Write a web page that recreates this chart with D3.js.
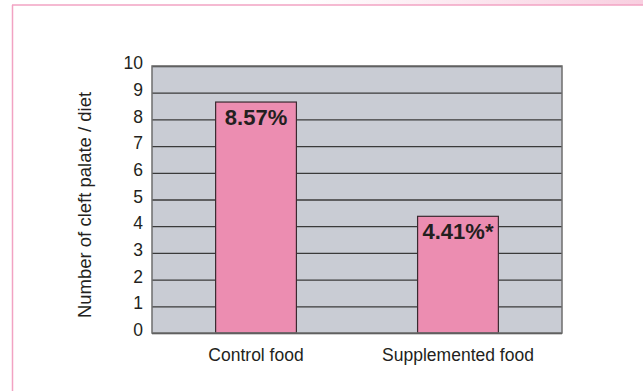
<!DOCTYPE html>
<html>
<head>
<meta charset="utf-8">
<script src="https://cdn.jsdelivr.net/npm/d3@7"></script>
<style>
  html, body { margin: 0; padding: 0; background: #fff; }
  svg { display: block; font-family: 'Liberation Sans', Arial, sans-serif; }
</style>
</head>
<body>
<svg id="chart"></svg>
<script>
const categories = ['Control food', 'Supplemented food'];
const cleftCounts = [8.65, 4.37];
const barLabels = ['8.57%', '4.41%*'];
const yTickValues = [0, 1, 2, 3, 4, 5, 6, 7, 8, 9, 10];
const yTitle = 'Number of cleft palate / diet';

const width = 643;
const height = 391;
const margin = { top: 66, right: 81, bottom: 58, left: 152 };
const plotW = width - margin.left - margin.right;
const plotH = height - margin.top - margin.bottom;

const svg = d3.select('#chart').attr('width', width).attr('height', height);

// pink page frame (left rule + top rule with fading band)
const defs = svg.append('defs');
const grad = defs.append('linearGradient').attr('id', 'topband')
  .attr('x1', '0%').attr('x2', '100%');
grad.append('stop').attr('offset', '45%').attr('stop-color', '#fff');
grad.append('stop').attr('offset', '100%').attr('stop-color', '#f8cfe0');
svg.append('rect').attr('x', 12).attr('y', 0).attr('width', width - 12).attr('height', 5)
  .attr('fill', 'url(#topband)');
svg.append('line').attr('x1', 12).attr('x2', width).attr('y1', 5).attr('y2', 5)
  .attr('stroke', '#f2a3c3').attr('stroke-width', 1.5);
svg.append('line').attr('x1', 12.5).attr('x2', 12.5).attr('y1', 5).attr('y2', height)
  .attr('stroke', '#f2a3c3').attr('stroke-width', 1.5);

const g = svg.append('g').attr('transform', `translate(${margin.left},${margin.top})`);

const x = d3.scaleBand().domain(categories).range([0, plotW])
  .paddingInner(0.6).paddingOuter(0.315);
const y = d3.scaleLinear().domain([0, 10]).range([plotH, 0]);

// plot background
g.append('rect').attr('width', plotW).attr('height', plotH).attr('fill', '#c9ccd4');

// grid lines
const yAxis = d3.axisLeft(y).tickValues(yTickValues).tickSize(-plotW).tickPadding(9);
const ya = g.append('g').attr('class', 'y-axis').call(yAxis);
ya.select('.domain').remove();
ya.selectAll('.tick line').attr('stroke', '#3a3a3a').attr('stroke-width', 1.3);
ya.selectAll('.tick text')
  .attr('fill', '#231f20')
  .attr('font-size', 17.5)
  .attr('dy', '0.15em');

// bars
g.selectAll('rect.bar')
  .data(cleftCounts)
  .enter()
  .append('rect')
  .attr('class', 'bar')
  .attr('x', (d, i) => x(categories[i]))
  .attr('y', d => y(d))
  .attr('width', x.bandwidth())
  .attr('height', d => plotH - y(d))
  .attr('fill', '#ec8db1')
  .attr('stroke', '#3a2a30')
  .attr('stroke-width', 1.2);

// bar labels
g.selectAll('text.bar-label')
  .data(cleftCounts)
  .enter()
  .append('text')
  .attr('class', 'bar-label')
  .attr('x', (d, i) => x(categories[i]) + x.bandwidth() / 2)
  .attr('y', d => y(d) + 23)
  .attr('text-anchor', 'middle')
  .attr('font-size', 22)
  .attr('font-weight', 'bold')
  .attr('fill', '#231f20')
  .text((d, i) => barLabels[i]);

// plot border
g.append('rect').attr('width', plotW).attr('height', plotH)
  .attr('fill', 'none').attr('stroke', '#6e6e6e').attr('stroke-width', 1.5);

// x axis labels
const xAxis = d3.axisBottom(x).tickSize(0).tickPadding(16);
const xa = g.append('g').attr('transform', `translate(0,${plotH})`).call(xAxis);
xa.select('.domain').remove();
xa.selectAll('.tick text').attr('font-size', 17.5).attr('fill', '#231f20');

// y title
svg.append('text')
  .attr('transform', `translate(91,205) rotate(-90)`)
  .attr('text-anchor', 'middle')
  .attr('font-size', 18.5)
  .attr('fill', '#231f20')
  .text(yTitle);
</script>
</body>
</html>
